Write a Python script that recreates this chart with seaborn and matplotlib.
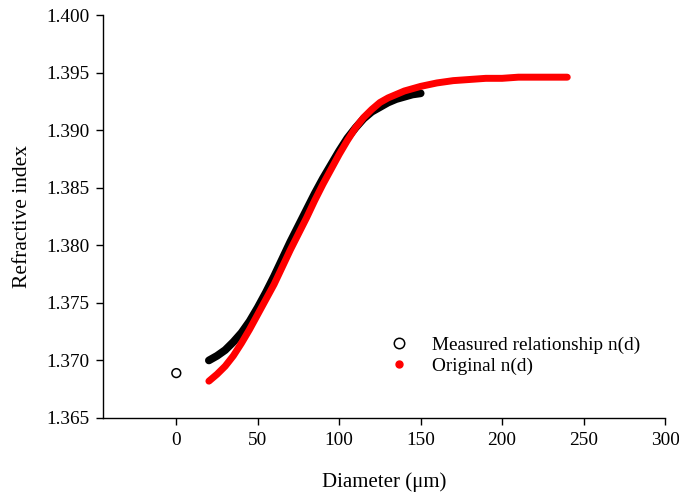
import matplotlib
matplotlib.use("Agg")
import matplotlib.pyplot as plt
from matplotlib.lines import Line2D
import seaborn as sns
import pandas as pd

# Measured relationship n(d)
meas_d = [20, 25, 30, 35, 40, 45, 50, 55, 60, 65, 70, 75, 80, 85, 90, 95, 100, 105, 110,
          115, 120, 125, 130, 135, 140, 145, 150]
meas_n = [1.3700, 1.3704, 1.3709, 1.3716, 1.3724, 1.3734, 1.3746, 1.3759, 1.3773, 1.3788,
          1.3803, 1.3817, 1.3831, 1.3845, 1.3858, 1.3870, 1.3882, 1.3893, 1.3902, 1.3910,
          1.3916, 1.3920, 1.3924, 1.3927, 1.3929, 1.3931, 1.3932]
# isolated measured point
meas_extra_d = [0]
meas_extra_n = [1.3689]

# Original n(d)
orig_d = [20, 25, 30, 35, 40, 45, 50, 55, 60, 65, 70, 75, 80, 85, 90, 95, 100, 105, 110,
          115, 120, 125, 130, 135, 140, 145, 150, 160, 170, 180, 190, 200, 210, 220, 230, 240]
orig_n = [1.3682, 1.3688, 1.3695, 1.3704, 1.3715, 1.3727, 1.3740, 1.3753, 1.3766, 1.3781,
          1.3796, 1.3810, 1.3824, 1.3839, 1.3853, 1.3866, 1.3879, 1.3891, 1.3902, 1.3911,
          1.3918, 1.3924, 1.3928, 1.3931, 1.3934, 1.3936, 1.3938, 1.3941, 1.3943, 1.3944,
          1.3945, 1.3945, 1.3946, 1.3946, 1.3946, 1.3946]

x_ticks = [0, 50, 100, 150, 200, 250, 300]
y_ticks = [1.365, 1.370, 1.375, 1.380, 1.385, 1.390, 1.395, 1.400]

sns.set_style("ticks")
plt.rcParams['font.family'] = ['Liberation Serif', 'DejaVu Serif']
plt.rcParams['text.color'] = 'black'
plt.rcParams['axes.labelcolor'] = 'black'
plt.rcParams['xtick.color'] = 'black'
plt.rcParams['ytick.color'] = 'black'

fig = plt.figure(figsize=(6.79, 4.97), dpi=100)
ax = fig.add_axes([103/679, 1-418/497, (665-103)/679, (418-15)/497])

df_meas = pd.DataFrame({"d": meas_d, "n": meas_n})
df_orig = pd.DataFrame({"d": orig_d, "n": orig_n})
df_extra = pd.DataFrame({"d": meas_extra_d, "n": meas_extra_n})

sns.lineplot(data=df_meas, x="d", y="n", ax=ax, color="black", linewidth=5.6,
             solid_capstyle="round", solid_joinstyle="round", sort=False, legend=False)
sns.lineplot(data=df_orig, x="d", y="n", ax=ax, color="#ff0000", linewidth=5.0,
             solid_capstyle="round", solid_joinstyle="round", sort=False, legend=False)
sns.scatterplot(data=df_extra, x="d", y="n", ax=ax, marker="o", s=40,
                facecolor="none", edgecolor="black", linewidth=1.1, legend=False)

ax.set_xlim(-45, 300)
ax.set_ylim(1.365, 1.400)
ax.set_xticks(x_ticks)
ax.set_xticklabels([str(v) for v in x_ticks])
ax.set_yticks(y_ticks)
ax.set_yticklabels([f"{v:.3f}" for v in y_ticks])
ax.tick_params(axis="both", direction="out", length=5, width=1, labelsize=13.9,
               colors="black", pad=5)
for side in ["top", "right"]:
    ax.spines[side].set_visible(False)
for side in ["left", "bottom"]:
    ax.spines[side].set_color("black")
    ax.spines[side].set_linewidth(1)

ax.set_xlabel("Diameter (\u03bcm)", fontsize=15, labelpad=17)
ax.set_ylabel("Refractive index", fontsize=15.5, labelpad=10)

handles = [
    Line2D([], [], linestyle="none", marker="o", markersize=7.5, markerfacecolor="none",
           markeredgecolor="black", markeredgewidth=1.1),
    Line2D([], [], linestyle="none", marker="o", markersize=5, markerfacecolor="#ff0000",
           markeredgecolor="#ff0000"),
]
ax.legend(handles, ["Measured relationship n(d)", "Original n(d)"], loc="upper left",
          bbox_to_anchor=(0.499, 0.203), frameon=False, fontsize=13.9,
          handlelength=1.6, handletextpad=0.91, borderpad=0, borderaxespad=0,
          labelspacing=0.2)

fig.savefig("out.png", dpi=100)
